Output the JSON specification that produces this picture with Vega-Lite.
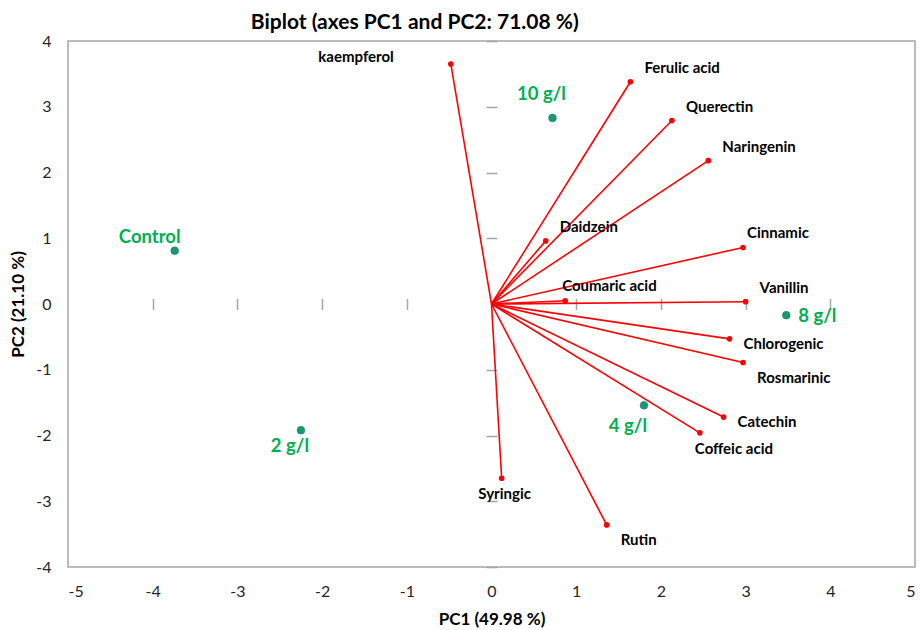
{
  "$schema": "https://vega.github.io/schema/vega-lite/v6.json",
  "width": 847,
  "height": 526,
  "autosize": {"type": "none"},
  "padding": {"left": 68, "top": 41, "right": 6, "bottom": 63},
  "background": "white",
  "config": {"view": {"stroke": "#a6a6a6", "strokeWidth": 1.5}, "font": "Lato"},
  "title": {"text": "Biplot (axes PC1 and PC2: 71.08 %)", "anchor": "start", "dx": 241, "fontSize": 21, "fontWeight": "bold", "color": "#000000", "offset": 0, "font": "Lato"},
  "datasets": {
    "vars": [
      {"name": "kaempferol", "pc1": -0.48, "pc2": 3.65},
      {"name": "Ferulic acid", "pc1": 1.64, "pc2": 3.38},
      {"name": "Querectin", "pc1": 2.13, "pc2": 2.79},
      {"name": "Naringenin", "pc1": 2.56, "pc2": 2.18},
      {"name": "Daidzein", "pc1": 0.64, "pc2": 0.96},
      {"name": "Cinnamic", "pc1": 2.97, "pc2": 0.86},
      {"name": "Coumaric acid", "pc1": 0.87, "pc2": 0.05},
      {"name": "Vanillin", "pc1": 3.0, "pc2": 0.035},
      {"name": "Chlorogenic", "pc1": 2.81, "pc2": -0.53},
      {"name": "Rosmarinic", "pc1": 2.97, "pc2": -0.89},
      {"name": "Catechin", "pc1": 2.74, "pc2": -1.72},
      {"name": "Coffeic acid", "pc1": 2.46, "pc2": -1.96},
      {"name": "Syringic", "pc1": 0.12, "pc2": -2.65},
      {"name": "Rutin", "pc1": 1.36, "pc2": -3.36}
    ],
    "obs": [
      {"name": "Control", "pc1": -3.74, "pc2": 0.81},
      {"name": "10 g/l", "pc1": 0.72, "pc2": 2.83},
      {"name": "2 g/l", "pc1": -2.25, "pc2": -1.92},
      {"name": "4 g/l", "pc1": 1.8, "pc2": -1.54},
      {"name": "8 g/l", "pc1": 3.48, "pc2": -0.17}
    ]
  },
  "layer": [
    {
      "mark": {"type": "rule", "color": "#a6a6a6", "strokeWidth": 1.5},
      "encoding": {"y": {"datum": 0, "type": "quantitative", "scale": {"domain": [-4, 4], "nice": false}, "axis": null}}
    },
    {
      "mark": {"type": "rule", "color": "#a6a6a6", "strokeWidth": 1.5},
      "encoding": {"x": {"datum": 0, "type": "quantitative", "scale": {"domain": [-5, 5], "nice": false}, "axis": null}}
    },
    {
      "data": {"name": "vars"},
      "mark": {"type": "rule", "color": "#ff0000", "strokeWidth": 1.6},
      "encoding": {
        "x": {"field": "pc1", "type": "quantitative", "scale": {"domain": [-5, 5], "nice": false},
          "axis": {"orient": "bottom", "offset": -268.5, "values": [-4, -3, -2, -1, 1, 2, 3, 4], "labels": false, "domain": false, "grid": false, "ticks": true, "tickSize": 11, "tickColor": "#a6a6a6", "tickWidth": 1.5, "title": null}},
        "y": {"field": "pc2", "type": "quantitative", "scale": {"domain": [-4, 4], "nice": false},
          "axis": {"orient": "left", "offset": -429, "values": [-4, -3, -2, -1, 1, 2, 3, 4], "labels": false, "domain": false, "grid": false, "ticks": true, "tickSize": 11, "tickColor": "#a6a6a6", "tickWidth": 1.5, "title": null}},
        "x2": {"datum": 0},
        "y2": {"datum": 0}
      }
    },
    {
      "data": {"name": "vars"},
      "mark": {"type": "point", "filled": true, "color": "#ff0000", "size": 32, "opacity": 1},
      "encoding": {
        "x": {"field": "pc1", "type": "quantitative", "axis": null},
        "y": {"field": "pc2", "type": "quantitative", "axis": null}
      }
    },
    {
      "data": {"name": "obs"},
      "mark": {"type": "point", "filled": true, "color": "#169b62", "stroke": "#2e75b6", "strokeWidth": 0.6, "size": 60, "opacity": 1},
      "encoding": {
        "x": {"field": "pc1", "type": "quantitative", "scale": {"domain": [-5, 5], "nice": false},
          "axis": {"orient": "bottom", "values": [-5, -4, -3, -2, -1, 0, 1, 2, 3, 4, 5], "labelExpr": "toString(datum.value)", "ticks": false, "domain": false, "grid": false, "labelFontSize": 16, "labelColor": "#262626", "labelPadding": 16, "labelFont": "Lato", "title": "PC1 (49.98 %)", "titleFontSize": 17, "titleFontWeight": "bold", "titleColor": "#000000", "titlePadding": 12, "titleFont": "Lato"}},
        "y": {"field": "pc2", "type": "quantitative", "scale": {"domain": [-4, 4], "nice": false},
          "axis": {"orient": "left", "values": [-4, -3, -2, -1, 0, 1, 2, 3, 4], "labelExpr": "toString(datum.value)", "ticks": false, "domain": false, "grid": false, "labelFontSize": 16, "labelColor": "#262626", "labelPadding": 17, "labelFont": "Lato", "title": "PC2 (21.10 %)", "titleFontSize": 17, "titleFontWeight": "bold", "titleColor": "#000000", "titlePadding": 8, "titleFont": "Lato"}}
      }
    },
    {
      "data": {"name": "vars"},
      "transform": [{"filter": {"field": "name", "oneOf": ["Ferulic acid", "Querectin", "Naringenin", "Daidzein", "Vanillin"]}}],
      "mark": {"type": "text", "align": "left", "baseline": "middle", "dx": 14, "dy": -14, "fontSize": 15, "fontWeight": "bold", "color": "#000000"},
      "encoding": {"x": {"field": "pc1", "type": "quantitative", "axis": null}, "y": {"field": "pc2", "type": "quantitative", "axis": null}, "text": {"field": "name"}}
    },
    {
      "data": {"name": "vars"},
      "transform": [{"filter": {"field": "name", "oneOf": ["Cinnamic"]}}],
      "mark": {"type": "text", "align": "left", "baseline": "middle", "dx": 4, "dy": -14, "fontSize": 15, "fontWeight": "bold", "color": "#000000"},
      "encoding": {"x": {"field": "pc1", "type": "quantitative", "axis": null}, "y": {"field": "pc2", "type": "quantitative", "axis": null}, "text": {"field": "name"}}
    },
    {
      "data": {"name": "vars"},
      "transform": [{"filter": {"field": "name", "oneOf": ["Coumaric acid"]}}],
      "mark": {"type": "text", "align": "left", "baseline": "middle", "dx": -3, "dy": -15, "fontSize": 15, "fontWeight": "bold", "color": "#000000"},
      "encoding": {"x": {"field": "pc1", "type": "quantitative", "axis": null}, "y": {"field": "pc2", "type": "quantitative", "axis": null}, "text": {"field": "name"}}
    },
    {
      "data": {"name": "vars"},
      "transform": [{"filter": {"field": "name", "oneOf": ["Chlorogenic", "Catechin"]}}],
      "mark": {"type": "text", "align": "left", "baseline": "middle", "dx": 14, "dy": 5, "fontSize": 15, "fontWeight": "bold", "color": "#000000"},
      "encoding": {"x": {"field": "pc1", "type": "quantitative", "axis": null}, "y": {"field": "pc2", "type": "quantitative", "axis": null}, "text": {"field": "name"}}
    },
    {
      "data": {"name": "vars"},
      "transform": [{"filter": {"field": "name", "oneOf": ["Rosmarinic", "Rutin"]}}],
      "mark": {"type": "text", "align": "left", "baseline": "middle", "dx": 14, "dy": 15, "fontSize": 15, "fontWeight": "bold", "color": "#000000"},
      "encoding": {"x": {"field": "pc1", "type": "quantitative", "axis": null}, "y": {"field": "pc2", "type": "quantitative", "axis": null}, "text": {"field": "name"}}
    },
    {
      "data": {"name": "vars"},
      "transform": [{"filter": {"field": "name", "oneOf": ["Coffeic acid"]}}],
      "mark": {"type": "text", "align": "left", "baseline": "middle", "dx": -5, "dy": 16, "fontSize": 15, "fontWeight": "bold", "color": "#000000"},
      "encoding": {"x": {"field": "pc1", "type": "quantitative", "axis": null}, "y": {"field": "pc2", "type": "quantitative", "axis": null}, "text": {"field": "name"}}
    },
    {
      "data": {"name": "vars"},
      "transform": [{"filter": {"field": "name", "oneOf": ["Syringic"]}}],
      "mark": {"type": "text", "align": "center", "baseline": "middle", "dx": 3, "dy": 16, "fontSize": 15, "fontWeight": "bold", "color": "#000000"},
      "encoding": {"x": {"field": "pc1", "type": "quantitative", "axis": null}, "y": {"field": "pc2", "type": "quantitative", "axis": null}, "text": {"field": "name"}}
    },
    {
      "data": {"name": "vars"},
      "transform": [{"filter": {"field": "name", "oneOf": ["kaempferol"]}}],
      "mark": {"type": "text", "align": "right", "baseline": "middle", "dx": -57, "dy": -7, "fontSize": 15, "fontWeight": "bold", "color": "#000000"},
      "encoding": {"x": {"field": "pc1", "type": "quantitative", "axis": null}, "y": {"field": "pc2", "type": "quantitative", "axis": null}, "text": {"field": "name"}}
    },
    {
      "data": {"name": "obs"},
      "transform": [{"filter": {"field": "name", "oneOf": ["Control"]}}],
      "mark": {"type": "text", "align": "center", "baseline": "middle", "dx": -25, "dy": -14, "fontSize": 18.5, "fontWeight": "bold", "color": "#00b050"},
      "encoding": {"x": {"field": "pc1", "type": "quantitative", "axis": null}, "y": {"field": "pc2", "type": "quantitative", "axis": null}, "text": {"field": "name"}}
    },
    {
      "data": {"name": "obs"},
      "transform": [{"filter": {"field": "name", "oneOf": ["10 g/l"]}}],
      "mark": {"type": "text", "align": "center", "baseline": "middle", "dx": -11, "dy": -24, "fontSize": 18.5, "fontWeight": "bold", "color": "#00b050"},
      "encoding": {"x": {"field": "pc1", "type": "quantitative", "axis": null}, "y": {"field": "pc2", "type": "quantitative", "axis": null}, "text": {"field": "name"}}
    },
    {
      "data": {"name": "obs"},
      "transform": [{"filter": {"field": "name", "oneOf": ["2 g/l"]}}],
      "mark": {"type": "text", "align": "center", "baseline": "middle", "dx": -11, "dy": 16, "fontSize": 18.5, "fontWeight": "bold", "color": "#00b050"},
      "encoding": {"x": {"field": "pc1", "type": "quantitative", "axis": null}, "y": {"field": "pc2", "type": "quantitative", "axis": null}, "text": {"field": "name"}}
    },
    {
      "data": {"name": "obs"},
      "transform": [{"filter": {"field": "name", "oneOf": ["4 g/l"]}}],
      "mark": {"type": "text", "align": "center", "baseline": "middle", "dx": -16, "dy": 21, "fontSize": 18.5, "fontWeight": "bold", "color": "#00b050"},
      "encoding": {"x": {"field": "pc1", "type": "quantitative", "axis": null}, "y": {"field": "pc2", "type": "quantitative", "axis": null}, "text": {"field": "name"}}
    },
    {
      "data": {"name": "obs"},
      "transform": [{"filter": {"field": "name", "oneOf": ["8 g/l"]}}],
      "mark": {"type": "text", "align": "left", "baseline": "middle", "dx": 12, "dy": 1, "fontSize": 18.5, "fontWeight": "bold", "color": "#00b050"},
      "encoding": {"x": {"field": "pc1", "type": "quantitative", "axis": null}, "y": {"field": "pc2", "type": "quantitative", "axis": null}, "text": {"field": "name"}}
    }
  ],
  "resolve": {"axis": {"x": "independent", "y": "independent"}}
}
